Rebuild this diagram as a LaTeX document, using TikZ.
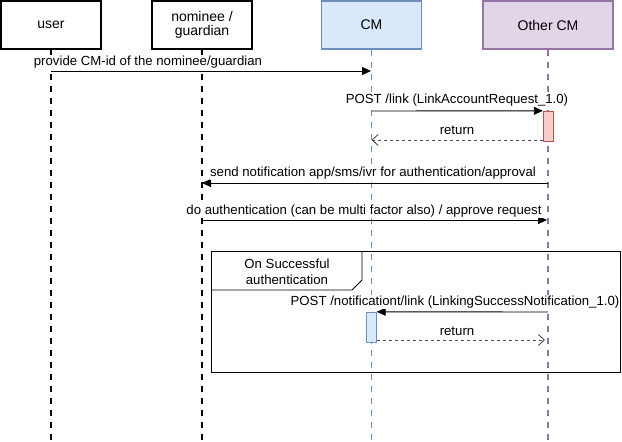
\documentclass[tikz,border=0pt]{standalone}
\usepackage{fontspec}
\setmainfont{Liberation Sans}
\usetikzlibrary{arrows.meta}
\definecolor{cmfill}{HTML}{DAE8FC}
\definecolor{cmdraw}{HTML}{6C8EBF}
\definecolor{ocfill}{HTML}{E1D5E7}
\definecolor{ocdraw}{HTML}{9673A6}
\definecolor{acfill}{HTML}{F8CECC}
\definecolor{acdraw}{HTML}{B85450}
\begin{document}
\begin{tikzpicture}[x=1pt,y=-1pt,
  head/.style={draw, line width=2pt, minimum height=48pt, minimum width=100pt, inner sep=0pt, align=center, font=\fontsize{14}{16}\selectfont},
  life/.style={line width=1.6pt, dash pattern=on 6pt off 6pt},
  lbl/.style={inner sep=0.5pt, font=\fontsize{13.2}{15.5}\selectfont, align=center},
  bglbl/.style={lbl, fill=white},
  msg/.style={line width=0.9pt, -{Triangle[length=9pt,width=8pt]}},
  ret/.style={line width=0.9pt, dash pattern=on 3pt off 3pt, draw=black!70, -{Straight Barb[length=6pt,width=11pt]}},
  actbox/.style={draw, minimum width=10pt, minimum height=30pt, inner sep=0pt}]
\useasboundingbox (0,0) rectangle (622,442);
% heads
\node[head] (user) at (51,25) {user};
\node[head] (nom) at (202,25) {nominee /\\[-2pt]guardian};
\node[head, line width=1.5pt, fill=cmfill, draw=cmdraw] (cm) at (371.5,25) {CM};
\node[head, line width=1.5pt, fill=ocfill, draw=ocdraw, minimum width=130pt] (oc) at (548,25) {Other CM};
% lifeline ends
\coordinate (userE) at (51,442);
\coordinate (nomE) at (202,442);
\coordinate (cmE) at (371.5,442);
\coordinate (ocE) at (548,442);
\draw[life] (user.south) -- (userE);
\draw[life] (nom.south) -- (nomE);
\draw[life, draw=cmdraw, line width=1.3pt] (cm.south) -- (cmE);
\draw[life, draw=ocdraw, line width=1.3pt] (oc.south) -- (ocE);
% frame
\draw[line width=0.8pt] (211,251) rectangle (620,372);
\draw[line width=0.8pt] (211,290) -- (352,290) -- (362,280) -- (362,251);
\node[lbl] (frl) at (287,272) {On Successful\\authentication};
% activations
\node[actbox, fill=acfill, draw=acdraw] (act1) at (548,126) {};
\node[actbox, fill=cmfill, draw=cmdraw] (act2) at (371.5,327) {};
% message endpoints
\coordinate (m1a) at (51,71);
\coordinate (m1b) at (371,71);
\coordinate (m2a) at (371.5,111);
\coordinate (m3a) at (371.5,140);
\coordinate (m4a) at (548,183);
\coordinate (m4b) at (202,183);
\coordinate (m5a) at (202,220);
\coordinate (m5b) at (547,220);
\coordinate (m6a) at (548,312);
\coordinate (m7b) at (545,340);
% messages
\draw[msg] (m1a) -- (m1b);
\node[bglbl] (l1) at (148,62) {provide CM-id of the nominee/guardian};
\draw[msg] (m2a) -- (act1.north west);
\node[bglbl] (l2) at (457,100) {POST /link (LinkAccountRequest\_1.0)};
\draw[ret] (act1.west |- m3a) -- (m3a);
\node[bglbl] (l3) at (457,130) {return};
\draw[msg] (m4a) -- (m4b);
\node[bglbl] (l4) at (373,173) {send notification app/sms/ivr for authentication/approval};
\draw[msg] (m5a) -- (m5b);
\node[bglbl] (l5) at (364,211) {do authentication (can be multi factor also) / approve request};
\draw[msg] (m6a) -- (act2.north east);
\node[bglbl] (l6) at (455,302) {POST /notificationt/link (LinkingSuccessNotification\_1.0)};
\draw[ret] (act2.east |- m7b) -- (m7b);
\node[bglbl] (l7) at (457,331) {return};
\end{tikzpicture}
\end{document}
